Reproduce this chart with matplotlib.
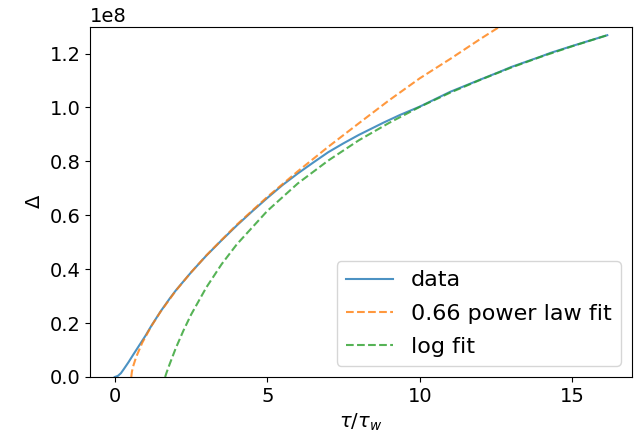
import numpy as np
import matplotlib
matplotlib.use('Agg')
import matplotlib.pyplot as plt

# values (y in units of 1e8)
x_data = [0.0, 0.1, 0.2, 0.3, 0.45, 0.6, 0.8, 1.0, 1.2, 1.5, 1.8, 2.0, 2.5, 3.0,
          3.5, 4.0, 4.5, 5.0, 5.5, 6.0, 6.5, 7.0, 7.5, 8.0, 8.8, 9.35, 10.0, 11.0,
          12.0, 12.64, 13.0, 14.0, 14.28, 15.0, 16.15]
y_data = [0.0, 0.004, 0.014, 0.030, 0.055, 0.082, 0.117, 0.152, 0.190, 0.243,
          0.291, 0.321, 0.388, 0.450, 0.507, 0.562, 0.614, 0.664, 0.712, 0.755,
          0.795, 0.834, 0.867, 0.898, 0.943, 0.972, 1.003, 1.058, 1.104, 1.133,
          1.150, 1.190, 1.202, 1.228, 1.268]

x_pow = [0.54, 0.56, 0.6, 0.7, 0.9, 1.2, 1.5, 2.0, 2.5, 3.0, 4.0, 5.0, 6.0, 7.0,
         8.0, 9.0, 10.0, 11.0, 12.0, 12.6, 13.0]
y_pow = [0.0, 0.019, 0.039, 0.074, 0.127, 0.189, 0.242, 0.320, 0.388, 0.451,
         0.565, 0.668, 0.763, 0.854, 0.941, 1.027, 1.108, 1.180, 1.255, 1.298, 1.325]

x_log = [1.65, 1.7, 1.8, 2.0, 2.25, 2.5, 3.0, 3.5, 4.0, 5.0, 6.0, 7.0, 8.0, 9.0,
         10.0, 11.0, 12.0, 13.0, 14.0, 15.0, 16.15]
y_log = [0.0, 0.017, 0.048, 0.107, 0.172, 0.231, 0.332, 0.418, 0.492, 0.616,
         0.718, 0.803, 0.878, 0.943, 1.002, 1.055, 1.103, 1.148, 1.189, 1.227, 1.268]

scale = 1e8

fig = plt.figure(figsize=(6.39, 4.43), dpi=100)
ax = fig.add_subplot(111)
fig.subplots_adjust(left=0.141, right=0.989, top=0.940, bottom=0.149)

ax.plot(x_data, np.array(y_data) * scale, alpha=0.8, label='data')
ax.plot(x_pow, np.array(y_pow) * scale, '--', alpha=0.8, label='0.66 power law fit')
ax.plot(x_log, np.array(y_log) * scale, '--', alpha=0.8, label='log fit')

ax.set_xlim(-0.81, 16.96)
ax.set_ylim(0, 1.3e8)
ax.set_xticks([0, 5, 10, 15])
ax.tick_params(labelsize=14)
ax.yaxis.get_offset_text().set_fontsize(14)

ax.set_xlabel(r'$\tau/\tau_w$', fontsize=14)
ax.set_ylabel(r'$\Delta$', fontsize=14)
ax.legend(loc='lower right', fontsize=16, handlelength=2.15, labelspacing=0.6)

fig.savefig('out.png', dpi=100)
